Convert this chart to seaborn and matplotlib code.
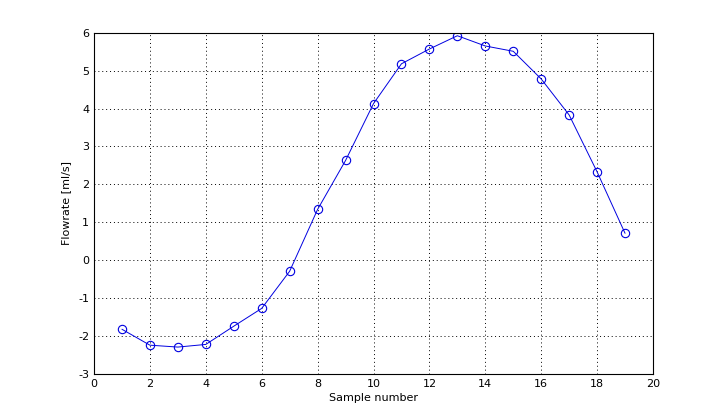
import matplotlib
matplotlib.use("Agg")
import matplotlib.pyplot as plt
import seaborn as sns
import pandas as pd

samples = list(range(1, 20))
flowrate = [-1.82, -2.24, -2.29, -2.22, -1.74, -1.27, -0.29, 1.34, 2.63, 4.13,
            5.18, 5.57, 5.92, 5.65, 5.51, 4.78, 3.83, 2.33, 0.71]
xticks = list(range(0, 21, 2))
yticks = list(range(-3, 7))

sns.set_style("white")
plt.rcParams['font.family'] = ['DejaVu Sans']
plt.rcParams['axes.unicode_minus'] = False
plt.rcParams['text.color'] = 'black'
plt.rcParams['axes.labelcolor'] = 'black'
plt.rcParams['xtick.color'] = 'black'
plt.rcParams['ytick.color'] = 'black'

df = pd.DataFrame({"Sample number": samples, "Flowrate [ml/s]": flowrate})

fig = plt.figure(figsize=(7.2, 4.2), dpi=100)
ax = fig.add_axes([94/720, 46/420, (653-94)/720, (374-32.7)/420])
sns.lineplot(data=df, x="Sample number", y="Flowrate [ml/s]", ax=ax,
             color="#0000e0", linewidth=0.7, marker="o", markersize=6,
             markerfacecolor="none", markeredgecolor="#0000e0", markeredgewidth=0.8)
ax.set_xlim(0, 20)
ax.set_ylim(-3, 6)
ax.set_xticks(xticks)
ax.set_yticks(yticks)
ax.grid(True, linestyle=(0, (1, 3)), color="black", linewidth=0.7)
ax.tick_params(direction="in", length=4, labelsize=8, color="black", width=0.7)
for s in ax.spines.values():
    s.set_color("black")
    s.set_linewidth(0.8)
ax.set_xlabel("Sample number", fontsize=8, labelpad=3)
ax.set_ylabel("Flowrate [ml/s]", fontsize=8, labelpad=5)
fig.savefig("out.png", dpi=100)
